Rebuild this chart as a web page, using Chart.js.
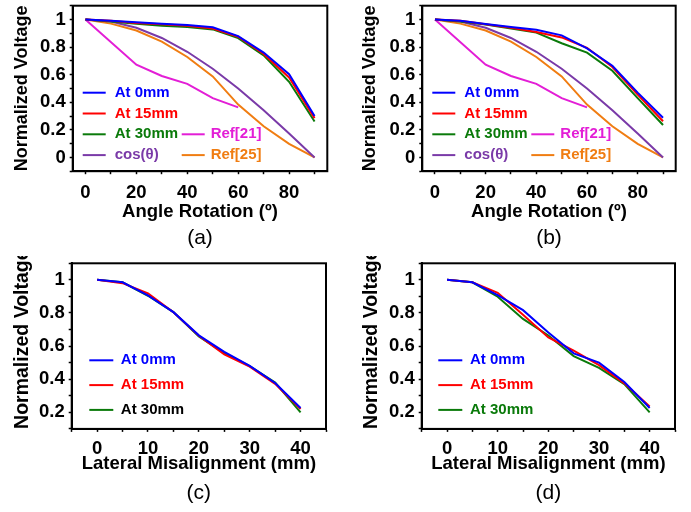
<!DOCTYPE html>
<html>
<head>
<meta charset="utf-8">
<title>Normalized voltage vs. rotation and misalignment</title>
<script src="https://cdn.jsdelivr.net/npm/chart.js@4.4.1/dist/chart.umd.min.js"></script>
<style>
  html, body { margin: 0; padding: 0; background: #fff; }
  #wrap { position: relative; width: 691px; height: 512px; overflow: hidden; }
  canvas { position: absolute; }
</style>
</head>
<body>
<div id="wrap">
  <canvas id="chartA" width="345" height="256" style="left:0;top:0"></canvas>
  <canvas id="chartB" width="346" height="256" style="left:345px;top:0"></canvas>
  <canvas id="chartC" width="345" height="256" style="left:0;top:256px"></canvas>
  <canvas id="chartD" width="346" height="256" style="left:345px;top:256px"></canvas>
</div>
<script>
// angle rotation sweeps, (a) and (b)
const angles = [0, 10, 20, 30, 40, 50, 60, 70, 80, 90];
const angleA0 = [1, 0.99, 0.98, 0.97, 0.96, 0.943, 0.88, 0.76, 0.603, 0.30];
const angleA15 = [1, 0.99, 0.975, 0.965, 0.955, 0.935, 0.875, 0.75, 0.58, 0.285];
const angleA30 = [1, 0.985, 0.97, 0.955, 0.945, 0.928, 0.865, 0.74, 0.548, 0.26];
const angleB0 = [1, 0.99, 0.968, 0.945, 0.925, 0.885, 0.79, 0.665, 0.47, 0.288];
const angleB15 = [1, 0.99, 0.965, 0.94, 0.91, 0.87, 0.795, 0.655, 0.455, 0.262];
const angleB30 = [1, 0.985, 0.963, 0.935, 0.905, 0.828, 0.76, 0.628, 0.43, 0.235];
const cosTheta = [1, 0.985, 0.94, 0.866, 0.766, 0.643, 0.5, 0.342, 0.174, 0];
const ref25 = [1, 0.97, 0.92, 0.84, 0.728, 0.587, 0.383, 0.226, 0.098, 0];
const ref21Angles = [0, 20, 30, 40, 50, 60];
const ref21 = [1, 0.672, 0.59, 0.533, 0.43, 0.363];

// lateral misalignment sweeps, (c) and (d)
const offsets = [0, 5, 10, 15, 20, 25, 30, 35, 40];
const latC0 = [1, 0.985, 0.906, 0.805, 0.665, 0.565, 0.48, 0.377, 0.226];
const latC15 = [1, 0.98, 0.919, 0.805, 0.662, 0.55, 0.476, 0.372, 0.22];
const latC30 = [1, 0.985, 0.904, 0.805, 0.658, 0.558, 0.479, 0.38, 0.20];
const latD0 = [1, 0.985, 0.908, 0.817, 0.682, 0.556, 0.50, 0.383, 0.226];
const latD15 = [1, 0.985, 0.922, 0.79, 0.652, 0.573, 0.485, 0.375, 0.235];
const latD30 = [1, 0.985, 0.898, 0.764, 0.664, 0.54, 0.469, 0.37, 0.20];

// ticks: every entry gets a mark, only the label lists get text
const angleTicks = [0, 10, 20, 30, 40, 50, 60, 70, 80, 90];
const angleLabels = [0, 20, 40, 60, 80];
const offsetTicks = [-5, 0, 5, 10, 15, 20, 25, 30, 35, 40, 45];
const offsetLabels = [0, 10, 20, 30, 40];
const angleYTicks = [-0.1, 0, 0.1, 0.2, 0.3, 0.4, 0.5, 0.6, 0.7, 0.8, 0.9, 1, 1.1];
const angleYLabels = [0, 0.2, 0.4, 0.6, 0.8, 1];
const offsetYTicks = [0.1, 0.2, 0.3, 0.4, 0.5, 0.6, 0.7, 0.8, 0.9, 1, 1.1];
const offsetYLabels = [0.2, 0.4, 0.6, 0.8, 1];

const BLUE = '#0000ff', RED = '#ff0000', GREEN = '#0a7a0a';
const PURPLE = '#7a3aa8', MAGENTA = '#e31ed6', ORANGE = '#f07d12';
const FAMILY = '"Liberation Sans", Arial, Helvetica, sans-serif';

Chart.defaults.font.family = FAMILY;
Chart.defaults.color = '#000';

const pairs = (xs, ys) => xs.map((x, i) => ({ x: x, y: ys[i] }));
const labelOf = (list) => (v) => {
  const hit = list.find((l) => Math.abs(l - v) < 1e-6);
  return hit === undefined ? '' : String(hit);
};
const fixedTicks = (list) => (scale) => {
  scale.ticks = list.map((v) => ({ value: v }));
};

function line(label, xs, ys, color) {
  return {
    label: label,
    data: pairs(xs, ys),
    borderColor: color,
    backgroundColor: color,
    borderWidth: 2,
    pointRadius: 0,
    tension: 0,
    fill: false,
  };
}

// black box around the plot area
const framePlugin = {
  id: 'frame',
  afterDatasetsDraw(chart) {
    const { ctx, chartArea: a } = chart;
    ctx.save();
    ctx.strokeStyle = '#000';
    ctx.lineWidth = 2;
    ctx.strokeRect(a.left, a.top, a.right - a.left, a.bottom - a.top);
    ctx.restore();
  },
};

// legend drawn inside the plot, in one or two columns
const panelLegend = {
  id: 'panelLegend',
  afterDatasetsDraw(chart, args, opts) {
    const { ctx, chartArea: a } = chart;
    ctx.save();
    ctx.font = 'bold 15px ' + FAMILY;
    ctx.textBaseline = 'middle';
    ctx.textAlign = 'left';
    chart.data.datasets.forEach((ds, i) => {
      const [col, row] = opts.slots[i];
      const x = a.left + opts.cols[col];
      const y = a.top + opts.rowTop + row * opts.rowGap;
      ctx.strokeStyle = ds.borderColor;
      ctx.lineWidth = 2;
      ctx.beginPath();
      ctx.moveTo(x, y);
      ctx.lineTo(x + opts.sample, y);
      ctx.stroke();
      ctx.fillStyle = (opts.textColors && opts.textColors[i]) || ds.borderColor;
      ctx.fillText(ds.label, x + opts.textGap[col], y);
    });
    ctx.restore();
  },
};

function makeChart(id, cfg) {
  const tickFont = { size: 18.5, weight: 'bold' };
  return new Chart(document.getElementById(id), {
    type: 'line',
    data: { datasets: cfg.datasets },
    plugins: [framePlugin, panelLegend],
    options: {
      responsive: false,
      animation: false,
      events: [],
      layout: { autoPadding: false, padding: cfg.padding },
      scales: {
        x: {
          type: 'linear',
          min: cfg.xMin,
          max: cfg.xMax,
          afterBuildTicks: fixedTicks(cfg.xTicks),
          afterFit: (s) => {
            s.height = cfg.xHeight;
            s.paddingLeft = 0;
            s.paddingRight = 0;
          },
          ticks: {
            callback: labelOf(cfg.xLabels),
            font: tickFont,
            color: '#000',
            padding: cfg.xTickPad,
            maxRotation: 0,
            autoSkip: false,
          },
          grid: { drawOnChartArea: false, tickLength: 3, tickColor: '#000', tickWidth: 1.5 },
          border: { color: '#000', width: 2 },
          title: {
            display: true,
            text: cfg.xTitle,
            font: { size: 18.5, weight: 'bold' },
            color: '#000',
            padding: { top: 0, bottom: 0 },
          },
        },
        y: {
          type: 'linear',
          min: cfg.yMin,
          max: cfg.yMax,
          afterBuildTicks: fixedTicks(cfg.yTicks),
          afterFit: (s) => {
            s.width = cfg.yWidth;
            s.paddingTop = 0;
            s.paddingBottom = 0;
          },
          ticks: {
            callback: labelOf(cfg.yLabels),
            font: tickFont,
            color: '#000',
            padding: 4,
            autoSkip: false,
          },
          grid: { drawOnChartArea: false, tickLength: 3, tickColor: '#000', tickWidth: 1.5 },
          border: { color: '#000', width: 2 },
          title: {
            display: true,
            text: 'Normalized Voltage',
            align: cfg.yTitleAlign,
            font: { size: cfg.yTitleSize, weight: 'bold' },
            color: '#000',
            padding: { top: cfg.yTitlePad, bottom: 0 },
          },
        },
      },
      plugins: {
        legend: { display: false },
        tooltip: { enabled: false },
        title: {
          display: true,
          text: cfg.caption,
          position: 'bottom',
          fullSize: false,
          font: { size: 21, weight: 'normal', family: FAMILY },
          color: '#000',
          padding: cfg.captionPad,
        },
        panelLegend: cfg.legend,
      },
    },
  });
}

const angleLegend = {
  slots: [[0, 0], [0, 1], [0, 2], [0, 3], [1, 2], [1, 3]],
  cols: [10, 109],
  textGap: [32, 29],
  sample: 23,
  rowTop: 87,
  rowGap: 20.8,
};

function angleSets(a0, a15, a30) {
  return [
    line('At 0mm', angles, a0, BLUE),
    line('At 15mm', angles, a15, RED),
    line('At 30mm', angles, a30, GREEN),
    line('cos(\u03b8)', angles, cosTheta, PURPLE),
    line('Ref[21]', ref21Angles, ref21, MAGENTA),
    line('Ref[25]', angles, ref25, ORANGE),
  ];
}

const angleBase = {
  xMin: -5, xMax: 95, xTicks: angleTicks, xLabels: angleLabels,
  xTitle: 'Angle Rotation (\u00ba)', xHeight: 52, xTickPad: 8,
  yMin: -0.1, yMax: 1.1, yTicks: angleYTicks, yLabels: angleYLabels,
  yTitleAlign: 'center', yTitleSize: 18,
  captionPad: { top: 2.8, bottom: 4.8 },
};

const offsetBase = {
  xMin: -5, xMax: 45, xTicks: offsetTicks, xLabels: offsetLabels,
  xTitle: 'Lateral Misalignment (mm)', xHeight: 46.6, xTickPad: 6,
  yMin: 0.1, yMax: 1.1, yTicks: offsetYTicks, yLabels: offsetYLabels,
  yTitleAlign: 'start', yTitleSize: 19.5,
  captionPad: { top: 5.5, bottom: 5.8 },
};

makeChart('chartA', Object.assign({}, angleBase, {
  datasets: angleSets(angleA0, angleA15, angleA30),
  padding: { left: 0, right: 17.7, top: 5.7, bottom: 0 },
  yWidth: 72.7, yTitlePad: 11, caption: '(a)', legend: angleLegend,
}));

makeChart('chartB', Object.assign({}, angleBase, {
  datasets: angleSets(angleB0, angleB15, angleB30),
  padding: { left: 0, right: 15.3, top: 5.7, bottom: 0 },
  yWidth: 77.3, yTitlePad: 14, caption: '(b)', legend: angleLegend,
}));

makeChart('chartC', Object.assign({}, offsetBase, {
  datasets: [
    line('At 0mm', offsets, latC0, BLUE),
    line('At 15mm', offsets, latC15, RED),
    line('At 30mm', offsets, latC30, GREEN),
  ],
  padding: { left: 0, right: 19, top: 7.3, bottom: 0 },
  yWidth: 71.7, yTitlePad: 11.3, caption: '(c)',
  legend: {
    slots: [[0, 0], [0, 1], [0, 2]], cols: [17.6], textGap: [31.5],
    sample: 24, rowTop: 97, rowGap: 24.8,
    textColors: [BLUE, RED, '#000'],
  },
}));

makeChart('chartD', Object.assign({}, offsetBase, {
  datasets: [
    line('At 0mm', offsets, latD0, BLUE),
    line('At 15mm', offsets, latD15, RED),
    line('At 30mm', offsets, latD30, GREEN),
  ],
  padding: { left: 0, right: 16, top: 7.3, bottom: 0 },
  yWidth: 76.7, yTitlePad: 14.8, caption: '(d)',
  legend: {
    slots: [[0, 0], [0, 1], [0, 2]], cols: [16.6], textGap: [31.7],
    sample: 24, rowTop: 97, rowGap: 24.8,
  },
}));
</script>
</body>
</html>
